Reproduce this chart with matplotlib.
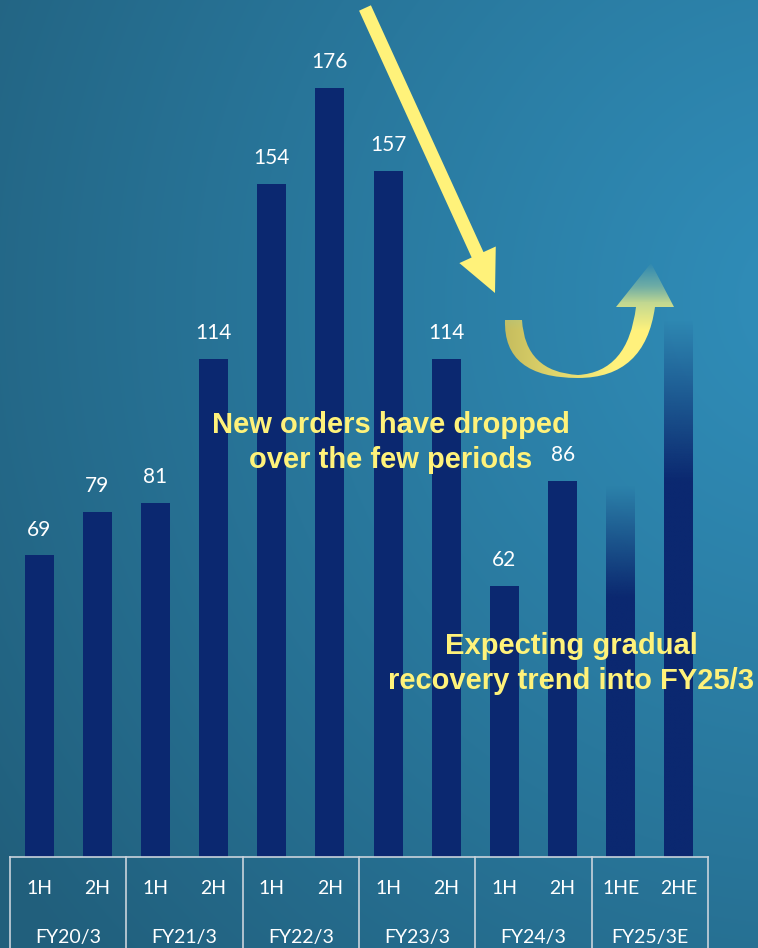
import matplotlib
matplotlib.use("Agg")
import matplotlib.pyplot as plt
import matplotlib.patches as mpatches
from matplotlib.path import Path
import numpy as np

# data
periods = ["FY20/3", "FY21/3", "FY22/3", "FY23/3", "FY24/3", "FY25/3E"]
halves = ["1H", "2H", "1H", "2H", "1H", "2H", "1H", "2H", "1H", "2H", "1HE", "2HE"]
values = [69, 79, 81, 114, 154, 176, 157, 114, 62, 86, 85, 123]
value_labels = ["69", "79", "81", "114", "154", "176", "157", "114", "62", "86", "", ""]
is_estimate = [False] * 10 + [True, True]

W, H = 758, 948
NAVY = "#0b2870"
YELLOW = "#fff27a"
LINE = "#c9d3dc"

plt.rcParams["font.family"] = ["Lato", "DejaVu Sans"]

fig = plt.figure(figsize=(W / 100, H / 100), dpi=100)

# background gradient
bg = fig.add_axes([0, 0, 1, 1], zorder=0)
bg.axis("off")
yy, xx = np.mgrid[0:H, 0:W]
dist = np.hypot(xx - 820, yy - 300) / 1000.0
t = np.clip(dist, 0, 1) ** 1.1
light = np.array([0x30, 0x8e, 0xba]) / 255
dark = np.array([0x21, 0x5f, 0x7c]) / 255
img = light[None, None, :] * (1 - t[..., None]) + dark[None, None, :] * t[..., None]
bg.imshow(img, extent=(0, W, H, 0), aspect="auto")
bg.set_xlim(0, W)
bg.set_ylim(H, 0)

# main chart axes
ax = fig.add_axes([0, 0, 1, 1], zorder=1)
ax.patch.set_alpha(0)
ax.axis("off")
slot = 58.17
x = np.arange(len(values))
bar_w = 29 / slot
bars = ax.bar(x, values, width=bar_w, color=NAVY, zorder=2)

# estimate bars fade out towards the top
fade_from = 0.7
for b, est, v in zip(bars, is_estimate, values):
    if not est:
        continue
    b.set_facecolor("none")
    n = 200
    grad = np.zeros((n, 1, 4))
    grad[..., :3] = matplotlib.colors.to_rgb(NAVY)
    grad[:, 0, 3] = np.clip((1 - np.linspace(0, 1, n)) / (1 - fade_from), 0, 1)
    im = ax.imshow(grad, extent=(b.get_x(), b.get_x() + b.get_width(), 0, v),
                   origin="lower", aspect="auto", zorder=2, interpolation="bilinear")
    im.set_clip_path(b)

for xi, v, lab in zip(x, values, value_labels):
    if lab:
        ax.annotate(lab, (xi, v), xytext=(0, 18.5), textcoords="offset points",
                    ha="center", va="center", color="white", fontsize=15)

px_per_unit = 4.37
base_px = H - 857
ax.set_xlim(-39.1 / slot, (W - 39.1) / slot)
ax.set_ylim(-base_px / px_per_unit, (H - base_px) / px_per_unit)

# category table below the bars
ybot = -base_px / px_per_unit
ax.plot([-0.5, len(values) - 0.5], [0, 0], color=LINE, lw=1.2, zorder=3)
for k in range(len(periods) + 1):
    ax.plot([-0.5 + 2 * k] * 2, [0, ybot], color=LINE, lw=1.2, zorder=3)
row1 = (H - 888) / px_per_unit + ybot
row2 = (H - 937) / px_per_unit + ybot
for xi, h in zip(x, halves):
    ax.text(xi, row1, h, ha="center", va="center", color="white", fontsize=14)
for k, p in enumerate(periods):
    ax.text(2 * k + 0.5, row2, p, ha="center", va="center", color="white", fontsize=14)

# overlay in pixel coordinates for arrows and callouts
ov = fig.add_axes([0, 0, 1, 1], zorder=3)
ov.patch.set_alpha(0)
ov.axis("off")

tail = np.array([365.0, 8.0])
tip = np.array([495.0, 293.0])
d = tip - tail
ov.add_patch(mpatches.FancyArrow(tail[0], tail[1], d[0], d[1], width=13,
                                 head_width=40, head_length=42,
                                 length_includes_head=True, color=YELLOW, lw=0))

verts = [
    (505, 320), (503, 378), (578, 378),
    (645, 378), (655, 307),
    (674, 307), (651, 263), (616, 307), (636, 307),
    (628, 372), (578, 375),
    (525, 372), (522, 320),
    (505, 320),
]
codes = [Path.MOVETO, Path.CURVE3, Path.CURVE3, Path.CURVE3, Path.CURVE3,
         Path.LINETO, Path.LINETO, Path.LINETO, Path.LINETO,
         Path.CURVE3, Path.CURVE3, Path.CURVE3, Path.CURVE3, Path.CLOSEPOLY]
curve = mpatches.PathPatch(Path(verts, codes), facecolor="none", edgecolor="none")
ov.add_patch(curve)
gy, gx = np.mgrid[258:382, 500:680]
tx = np.clip((gx - 505) / 110.0, 0, 1)
c_olive = np.array([0xc6, 0xbd, 0x5e]) / 255
c_yel = np.array([0xff, 0xf2, 0x7c]) / 255
c_green = np.array([0x9c, 0xc8, 0x9e]) / 255
col = c_olive * (1 - tx[..., None]) + c_yel * tx[..., None]
ty = np.clip((330 - gy) / 45.0, 0, 1)
col = col * (1 - ty[..., None]) + c_green * ty[..., None]
alpha = np.clip((gy - 262) / 40.0, 0, 1)
rgba = np.dstack([col, alpha])
cim = ov.imshow(rgba, extent=(500, 680, 382, 258), aspect="auto", zorder=4,
                interpolation="bilinear")
cim.set_clip_path(curve)
ov.set_xlim(0, W)
ov.set_ylim(H, 0)

note_font = ["Liberation Sans", "DejaVu Sans"]
notes = [
    (391, 425, "New orders have dropped"),
    (391, 460, "over the few periods"),
    (571, 646, "Expecting gradual"),
    (571, 681, "recovery trend into FY25/3"),
]
for nx, ny, s in notes:
    ov.text(nx, ny, s, ha="center", va="center", color=YELLOW, fontsize=21,
            fontweight="bold", family=note_font)

fig.savefig("out.png", dpi=100)
